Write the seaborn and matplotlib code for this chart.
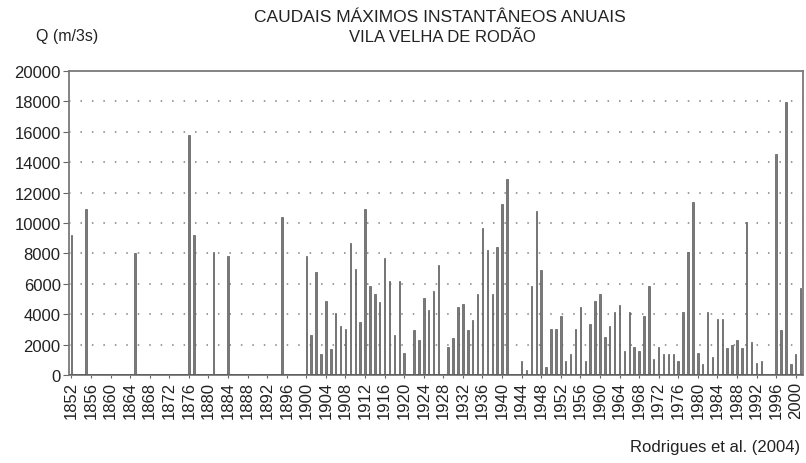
import matplotlib
matplotlib.use("Agg")
import matplotlib.pyplot as plt
import seaborn as sns
import pandas as pd
import numpy as np

# Annual maximum instantaneous discharge, Vila Velha de Rodao
first_year = 1852
last_year = 2001
flood_years = [1852, 1855, 1865, 1876, 1877, 1881, 1884, 1895,
               1900, 1901, 1902, 1903, 1904, 1905, 1906, 1907, 1908, 1909,
               1910, 1911, 1912, 1913, 1914, 1915, 1916, 1917, 1918, 1919,
               1920, 1922, 1923, 1924, 1925, 1926, 1927, 1929,
               1930, 1931, 1932, 1933, 1934, 1935, 1936, 1937, 1938, 1939,
               1940, 1941, 1944, 1945, 1946, 1947, 1948, 1949,
               1950, 1951, 1952, 1953, 1954, 1955, 1956, 1957, 1958, 1959,
               1960, 1961, 1962, 1963, 1964, 1965, 1966, 1967, 1968, 1969,
               1970, 1971, 1972, 1973, 1974, 1975, 1976, 1977, 1978, 1979,
               1980, 1981, 1982, 1983, 1984, 1985, 1986, 1987, 1988, 1989,
               1990, 1991, 1992, 1993, 1996, 1997, 1998, 1999, 2000, 2001]
peak_q = [9200, 10900, 8000, 15800, 9200, 8100, 7800, 10400,
          7800, 2600, 6750, 1350, 4900, 1700, 4050, 3200, 3000, 8700,
          7000, 3500, 10950, 5850, 5300, 4800, 7700, 6200, 2600, 6200,
          1450, 2950, 2300, 5050, 4300, 5550, 7250, 1850,
          2450, 4500, 4650, 2950, 3650, 5300, 9700, 8250, 5300, 8400,
          11250, 12900, 950, 350, 5850, 10800, 6900, 500,
          3000, 3000, 3900, 950, 1350, 3000, 4450, 950, 3350, 4900,
          5300, 2500, 3250, 4150, 4600, 1550, 4150, 1850, 1550, 3900,
          5850, 1050, 1850, 1350, 1350, 1350, 950, 4150, 8100, 11400,
          1450, 700, 4150, 1200, 3700, 3700, 1750, 1950, 2300, 1750,
          10050, 2150, 800, 950, 14550, 2950, 17950, 700, 1400, 5700]

yticks = list(range(0, 20001, 2000))
xtick_years = list(range(1852, 2001, 4))

all_years = list(range(first_year, last_year + 1))
series = pd.Series(peak_q, index=flood_years).reindex(all_years, fill_value=0)
df = pd.DataFrame({"year": [str(y) for y in all_years], "q": series.values})

sns.set_style("white")
plt.rcParams["font.family"] = ["Liberation Sans", "DejaVu Sans"]

fig = plt.figure(figsize=(8.06, 4.64), dpi=100)
ax = fig.add_axes([69 / 806, 1 - 376 / 464, (803 - 69) / 806, (376 - 72) / 464])

sns.barplot(data=df, x="year", y="q", order=df["year"], color="#7a7a7a",
            edgecolor="#5a5a5a", linewidth=0.5, width=0.3, ax=ax,
            errorbar=None, saturation=1)

ax.set_xlim(-0.5, len(all_years) - 0.5)
ax.set_ylim(0, 20000)
ax.set_yticks(yticks)
ax.set_yticklabels([str(v) for v in yticks], fontsize=12, color="#222222")
pos = [all_years.index(y) for y in xtick_years]
ax.set_xticks(pos)
ax.set_xticklabels([str(y) for y in xtick_years], rotation=90, fontsize=12,
                   color="#222222")
ax.tick_params(axis="y", length=4, width=0.8, color="#666666", pad=2,
               left=True)
ax.tick_params(axis="x", length=2, width=0.8, color="#666666", pad=2,
               bottom=True)

for v in yticks[1:-1]:
    ax.axhline(v, color="#808080", linestyle=(0, (1, 6.5)), linewidth=1.1,
               zorder=0)
ax.axhline(0, color="#555555", linewidth=1.8, zorder=3)

for side in ["left", "right", "top", "bottom"]:
    ax.spines[side].set_visible(True)
    ax.spines[side].set_color("#7a7a7a")
    ax.spines[side].set_linewidth(1.3)

ax.set_xlabel("")
ax.set_ylabel("")

fig.text(440 / 806, 1 - 18 / 464, "CAUDAIS MÁXIMOS INSTANTÂNEOS ANUAIS",
         ha="center", va="center", fontsize=12.5, color="#222222")
fig.text(442 / 806, 1 - 37 / 464, "VILA VELHA DE RODÃO",
         ha="center", va="center", fontsize=12, color="#222222")
fig.text(67 / 806, 1 - 37 / 464, "Q (m/3s)", ha="center", va="center",
         fontsize=11.5, color="#222222")
fig.text(800 / 806, 1 - 448 / 464, "Rodrigues et al. (2004)", ha="right",
         va="center", fontsize=12, color="#222222")

fig.savefig("out.png", dpi=100)
